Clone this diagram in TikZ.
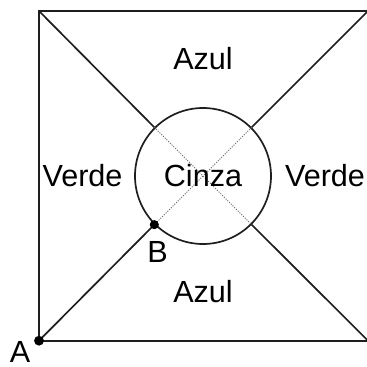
\documentclass[tikz,border=0pt]{standalone}
\usepackage{fontspec}
\setmainfont{Liberation Sans}
\usepackage{tikz}
\definecolor{EdgeColor}{HTML}{1E1E1E}
\definecolor{DotColor}{HTML}{6E6E6E}
\tikzset{
	edge/.style={draw=EdgeColor, line width=2.4pt},
	hidden/.style={draw=DotColor, line width=1.5pt, dotted},
	region/.style={anchor=base, font=\fontsize{43.5}{48}\selectfont, text=black, inner sep=0pt},
	corner/.style={circle, fill=black, inner sep=0pt, minimum size=#1},
}

\begin{document}
\begin{tikzpicture}[x=0.05cm,y=0.05cm]
	\useasboundingbox (0,0) rectangle (367,367);
	\fill[white] (0,0) rectangle (367,367);

	\coordinate (bl) at (39,26.3);
	\coordinate (br) at (368,26.3);
	\coordinate (tr) at (368,356);
	\coordinate (tl) at (39,356);
	\node[circle, minimum size=6.8cm, inner sep=0pt, edge] (roda) at (203,191) {};

	\draw[edge] (bl) -- (br) -- (tr) -- (tl) -- cycle;
	\draw[edge] (tl) -- (roda.135);
	\draw[edge] (tr) -- (roda.45);
	\draw[edge] (bl) -- (roda.225);
	\draw[edge] (br) -- (roda.-45);
	\draw[hidden] (roda.135) -- (roda.-45);
	\draw[hidden] (roda.45) -- (roda.225);

	\node[corner=14pt] (ptA) at (bl) {};
	\node[corner=13pt] (ptB) at (roda.225) {};

	\node[region] (azulcima) at (203,297) {Azul};
	\node[region] (azulbaixo) at (203,64) {Azul};
	\node[region] (verdeesq) at (82.5,180) {Verde};
	\node[region] (verdedir) at (325,180) {Verde};
	\node[region] (cinza) at (203,180) {Cinza};
	\node[region] (rotB) at (157.5,104) {B};
	\node[region] (rotA) at (20,4) {A};
\end{tikzpicture}
\end{document}
